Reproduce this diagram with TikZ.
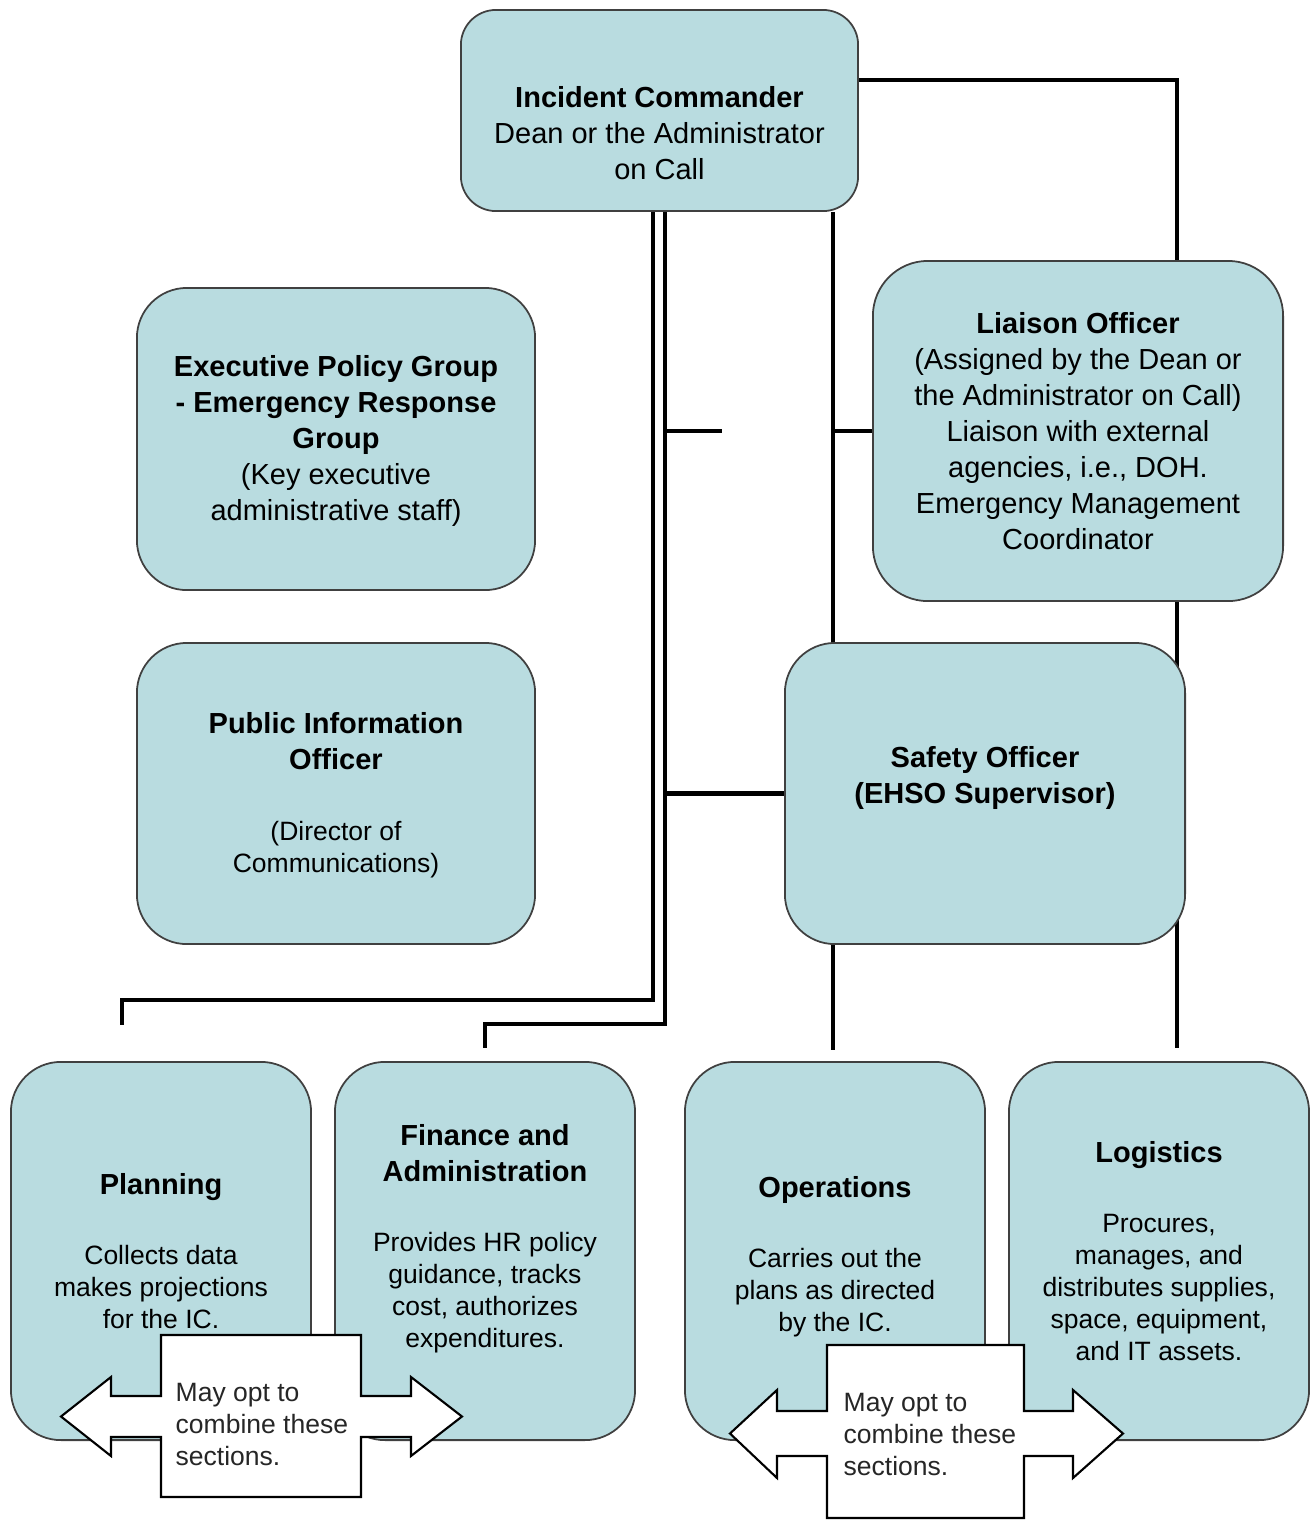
\documentclass[tikz,border=0pt]{standalone}
\usepackage{fontspec}
\setmainfont{Liberation Sans}
\usetikzlibrary{positioning,backgrounds}
\definecolor{staffblue}{RGB}{185,220,224}
\newcommand{\boxfont}{\fontsize{8.25}{10.24}\selectfont}
\newcommand{\notefont}{\fontsize{7.54}{9.1}\selectfont}
\newcommand{\hd}[1]{{\boxfont\bfseries #1}}

\begin{document}
\begin{tikzpicture}[x=0.01cm, y=-0.01cm,
    staffbox/.style={draw=black!75, line width=0.5pt, fill=staffblue, rounded corners=0.5cm, align=center, font=\boxfont},
    sectionbox/.style={staffbox, font=\notefont, minimum width=3cm, minimum height=3.78cm},
    link/.style={line width=1.4pt},
    combinearrow/.style={draw=black, line width=0.6pt, fill=white},
    note/.style={align=left, font=\notefont, text=black!85, inner sep=0pt}]
    \useasboundingbox (0,0) rectangle (1314,1520);

    % Command staff
    \node[staffbox, minimum width=3.97cm, minimum height=2.01cm, rounded corners=0.35cm] (ic) at (659.5,110.5)
        {\strut\\[1.7pt]\textbf{Incident Commander}\\Dean or the Administrator\\on Call};
    \node[staffbox, minimum width=3.98cm, minimum height=3.02cm] (epg) at (336,439)
        {\strut\textbf{Executive Policy Group}\\\textbf{- Emergency Response}\\\textbf{Group}\\(Key executive\\administrative staff)};
    \node[staffbox, minimum width=3.98cm, minimum height=3.01cm] (pio) at (336,793.5)
        {\strut\textbf{Public Information}\\\textbf{Officer}\\[9.96pt]{\notefont (Director of}\\[-1.14pt]{\notefont Communications)}};
    \node[staffbox, minimum width=4.10cm, minimum height=3.40cm, rounded corners=0.55cm] (liaison) at (1078,431)
        {\textbf{Liaison Officer}\\(Assigned by the Dean or\\the Administrator on Call)\\Liaison with external\\agencies, i.e., DOH.\\Emergency Management\\Coordinator};
    \node[staffbox, minimum width=4.00cm, minimum height=3.01cm] (safety) at (985,793.5)
        {\textbf{Safety Officer}\\\textbf{(EHSO Supervisor)}\\[-2.8pt]\strut};

    % General staff sections
    \node[sectionbox] (planning) at (161,1251)
        {\hd{Planning}\\[10.82pt]Collects data\\makes projections\\for the IC.};
    \node[sectionbox] (finance) at (485,1251)
        {\hd{Finance and}\\[1.14pt]\hd{Administration}\\[10.82pt]Provides HR policy\\guidance, tracks\\cost, authorizes\\expenditures.\\[-3.4pt]\strut};
    \node[sectionbox] (operations) at (835,1251)
        {\rule{0pt}{9pt}\hd{Operations}\\[10.82pt]Carries out the\\plans as directed\\by the IC.};
    \node[sectionbox] (logistics) at (1159,1251)
        {\hd{Logistics}\\[10.82pt]Procures,\\manages, and\\distributes supplies,\\space, equipment,\\and IT assets.};

    % Reporting lines
    \begin{scope}[on background layer]
        \coordinate (trunkA) at (653,0);
        \coordinate (trunkB) at (665,0);
        \coordinate (trunkC) at (833,0);
        \coordinate (trunkD) at (1177,0);
        \draw[link] (ic.east |- 0,80) -| (trunkD |- liaison.north);
        \draw[link] (trunkD |- liaison.south) -- (trunkD |- 0,1048);
        \draw[link] (trunkC |- ic.south) -- (trunkC |- safety.north);
        \draw[link] (trunkC |- liaison.west) -- (liaison.west);
        \draw[link] (trunkC |- safety.south) -- (trunkC |- 0,1050);
        \draw[link] (trunkB |- ic.south) -- (trunkB |- 0,1024) -| (finance.north |- 0,1048);
        \draw[link] (trunkB |- liaison.west) -- (722,431);
        \draw[link] (trunkB |- safety.west) -- (safety.west);
        \draw[link] (trunkA |- ic.south) -- (trunkA |- 0,1000) -| (122,1025);
    \end{scope}

    % Combine callouts
    \draw[combinearrow] (161,1335) -- (361,1335) -- (361,1396) -- (411,1396) -- (411,1377) -- (462,1416.5)
        -- (411,1456) -- (411,1437) -- (361,1437) -- (361,1497) -- (161,1497) -- (161,1437) -- (111,1437)
        -- (111,1456) -- (61,1416.5) -- (111,1377) -- (111,1396) -- (161,1396) -- cycle;
    \node[note, anchor=west] (combineA) at (175,1424) {May opt to\\combine these\\sections.};
    \draw[combinearrow] (827,1345) -- (1024,1345) -- (1024,1411) -- (1073,1411) -- (1073,1390) -- (1123,1433.5)
        -- (1073,1478) -- (1073,1456) -- (1024,1456) -- (1024,1518) -- (827,1518) -- (827,1456) -- (777,1456)
        -- (777,1478) -- (730,1433.5) -- (777,1390) -- (777,1411) -- (827,1411) -- cycle;
    \node[note, anchor=west] (combineB) at (843,1434) {May opt to\\combine these\\sections.};
\end{tikzpicture}
\end{document}
